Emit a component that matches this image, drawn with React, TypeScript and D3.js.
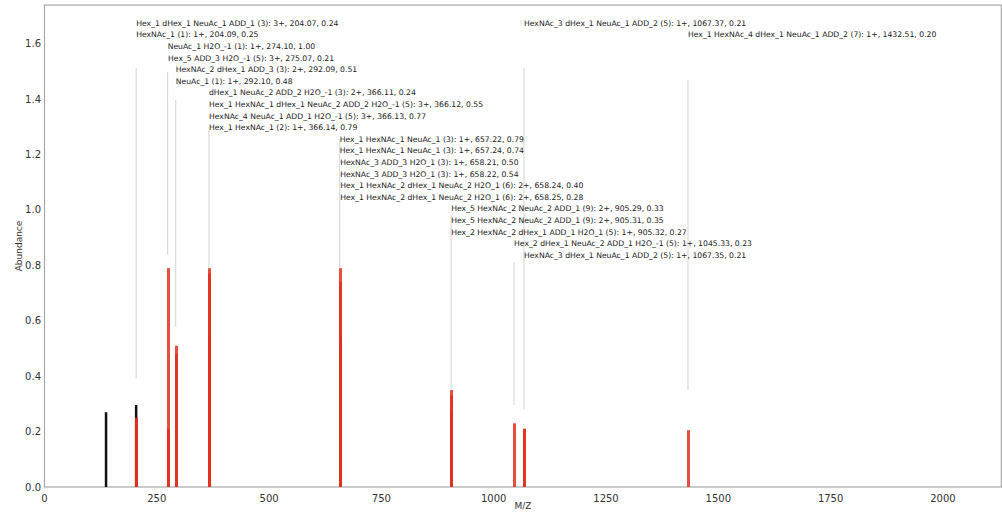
import * as d3 from "d3";
import React, { useRef, useEffect } from "react";

// observed peaks (black)
const peakMz = [137, 204];
const peakAbundance = [0.27, 0.296];

// annotated fragments (red bars + labels)
const annoText = [
  "Hex_1 dHex_1 NeuAc_1 ADD_1 (3): 3+, 204.07, 0.24",
  "HexNAc_1 (1): 1+, 204.09, 0.25",
  "NeuAc_1 H2O_-1 (1): 1+, 274.10, 1.00",
  "Hex_5 ADD_3 H2O_-1 (5): 3+, 275.07, 0.21",
  "HexNAc_2 dHex_1 ADD_3 (3): 2+, 292.09, 0.51",
  "NeuAc_1 (1): 1+, 292.10, 0.48",
  "dHex_1 NeuAc_2 ADD_2 H2O_-1 (3): 2+, 366.11, 0.24",
  "Hex_1 HexNAc_1 dHex_1 NeuAc_2 ADD_2 H2O_-1 (5): 3+, 366.12, 0.55",
  "HexNAc_4 NeuAc_1 ADD_1 H2O_-1 (5): 3+, 366.13, 0.77",
  "Hex_1 HexNAc_1 (2): 1+, 366.14, 0.79",
  "Hex_1 HexNAc_1 NeuAc_1 (3): 1+, 657.22, 0.79",
  "Hex_1 HexNAc_1 NeuAc_1 (3): 1+, 657.24, 0.74",
  "HexNAc_3 ADD_3 H2O_1 (3): 1+, 658.21, 0.50",
  "HexNAc_3 ADD_3 H2O_1 (3): 1+, 658.22, 0.54",
  "Hex_1 HexNAc_2 dHex_1 NeuAc_2 H2O_1 (6): 2+, 658.24, 0.40",
  "Hex_1 HexNAc_2 dHex_1 NeuAc_2 H2O_1 (6): 2+, 658.25, 0.28",
  "Hex_5 HexNAc_2 NeuAc_2 ADD_1 (9): 2+, 905.29, 0.33",
  "Hex_5 HexNAc_2 NeuAc_2 ADD_1 (9): 2+, 905.31, 0.35",
  "Hex_2 HexNAc_2 dHex_1 ADD_1 H2O_1 (5): 1+, 905.32, 0.27",
  "Hex_2 dHex_1 NeuAc_2 ADD_1 H2O_-1 (5): 1+, 1045.33, 0.23",
  "HexNAc_3 dHex_1 NeuAc_1 ADD_2 (5): 1+, 1067.35, 0.21",
  "HexNAc_3 dHex_1 NeuAc_1 ADD_2 (5): 1+, 1067.37, 0.21",
  "Hex_1 HexNAc_4 dHex_1 NeuAc_1 ADD_2 (7): 1+, 1432.51, 0.20",
];
const annoMz = [
  204.07, 204.09, 274.1, 275.07, 292.09, 292.1, 366.11, 366.12, 366.13, 366.14,
  657.22, 657.24, 658.21, 658.22, 658.24, 658.25, 905.29, 905.31, 905.32,
  1045.33, 1067.35, 1067.37, 1432.51,
];
const annoHeight = [
  0.24, 0.25, 0.79, 0.21, 0.51, 0.48, 0.24, 0.55, 0.77, 0.79,
  0.79, 0.74, 0.5, 0.54, 0.4, 0.28, 0.33, 0.35, 0.27,
  0.23, 0.21, 0.21, 0.205,
];
const annoRow = [0, 1, 2, 3, 4, 5, 6, 7, 8, 9, 10, 11, 12, 13, 14, 15, 16, 17, 18, 19, 20, 0, 1];

// leader lines (gray), one per peak group
const leaderMz = [204.08, 274.1, 292.1, 366.12, 657.23, 905.3, 1045.33, 1067.36, 1432.51];
const leaderTop = [1.513, 1.498, 1.397, 1.289, 1.256, 0.982, 0.812, 1.513, 1.469];
const leaderBottom = [0.393, 0.84, 0.578, 0.79, 0.79, 0.35, 0.296, 0.28, 0.35];

const xTicks = [0, 250, 500, 750, 1000, 1250, 1500, 1750, 2000];
const yTicks = [0, 0.2, 0.4, 0.6, 0.8, 1.0, 1.2, 1.4, 1.6];

const width = 1002;
const height = 512;
const font = "DejaVu Sans, sans-serif";

export default function App() {
  const svgRef = useRef(null);

  useEffect(() => {
    const svg = d3.select(svgRef.current);
    svg.selectAll("*").remove();

    const x = d3.scaleLinear().domain([0, 2130]).range([44.5, 1001.3]);
    const y = d3.scaleLinear().domain([0, 1.74]).range([487, 5]);

    // frame
    svg
      .append("rect")
      .attr("x", x(0))
      .attr("y", y(1.74))
      .attr("width", x(2130) - x(0))
      .attr("height", y(0) - y(1.74))
      .attr("fill", "none")
      .attr("stroke", "#a8a8a8")
      .attr("stroke-width", 1.2);

    // leader lines
    svg
      .append("g")
      .selectAll("line")
      .data(leaderMz)
      .enter()
      .append("line")
      .attr("x1", (d) => x(d))
      .attr("x2", (d) => x(d))
      .attr("y1", (d, i) => y(leaderBottom[i]))
      .attr("y2", (d, i) => y(leaderTop[i]))
      .attr("stroke", "#d4d4d4")
      .attr("stroke-width", 1);

    // black peaks
    svg
      .append("g")
      .selectAll("line")
      .data(peakMz)
      .enter()
      .append("line")
      .attr("x1", (d) => x(d))
      .attr("x2", (d) => x(d))
      .attr("y1", y(0))
      .attr("y2", (d, i) => y(peakAbundance[i]))
      .attr("stroke", "#111")
      .attr("stroke-width", 2.5);

    // red annotated bars
    svg
      .append("g")
      .selectAll("line")
      .data(annoMz)
      .enter()
      .append("line")
      .attr("x1", (d) => Math.round(x(d)) + 0.5)
      .attr("x2", (d) => Math.round(x(d)) + 0.5)
      .attr("y1", y(0))
      .attr("y2", (d, i) => y(annoHeight[i]))
      .attr("stroke", "#e2301d")
      .attr("stroke-opacity", 0.85)
      .attr("stroke-width", 3);

    // labels
    svg
      .append("g")
      .selectAll("text")
      .data(annoText)
      .enter()
      .append("text")
      .attr("x", (d, i) => x(annoMz[i]))
      .attr("y", (d, i) => y(1.675 - annoRow[i] * 0.0419))
      .attr("dy", "0.35em")
      .attr("font-family", font)
      .attr("font-size", "7.7px")
      .attr("fill", "#222")
      .text((d) => d);

    // y ticks
    svg
      .append("g")
      .selectAll("text")
      .data(yTicks)
      .enter()
      .append("text")
      .attr("x", 41)
      .attr("y", (d) => y(d))
      .attr("dy", "0.35em")
      .attr("text-anchor", "end")
      .attr("font-family", font)
      .attr("font-size", "10px")
      .attr("fill", "#333")
      .text((d) => d.toFixed(1));

    // x ticks
    svg
      .append("g")
      .selectAll("text")
      .data(xTicks)
      .enter()
      .append("text")
      .attr("x", (d) => x(d))
      .attr("y", 498)
      .attr("dy", "0.35em")
      .attr("text-anchor", "middle")
      .attr("font-family", font)
      .attr("font-size", "10px")
      .attr("fill", "#333")
      .text((d) => d);

    svg
      .append("text")
      .attr("x", (x(0) + x(2130)) / 2)
      .attr("y", 506)
      .attr("dy", "0.35em")
      .attr("text-anchor", "middle")
      .attr("font-family", font)
      .attr("font-size", "9px")
      .attr("fill", "#333")
      .text("M/Z");

    svg
      .append("text")
      .attr("transform", `translate(19,${y(0.87)}) rotate(-90)`)
      .attr("dy", "0.35em")
      .attr("text-anchor", "middle")
      .attr("font-family", font)
      .attr("font-size", "9px")
      .attr("fill", "#333")
      .text("Abundance");
  }, []);

  return (
    <svg
      ref={svgRef}
      width={width}
      height={height}
      style={{ position: "absolute", left: 0, top: 0, background: "#fff" }}
    />
  );
}
